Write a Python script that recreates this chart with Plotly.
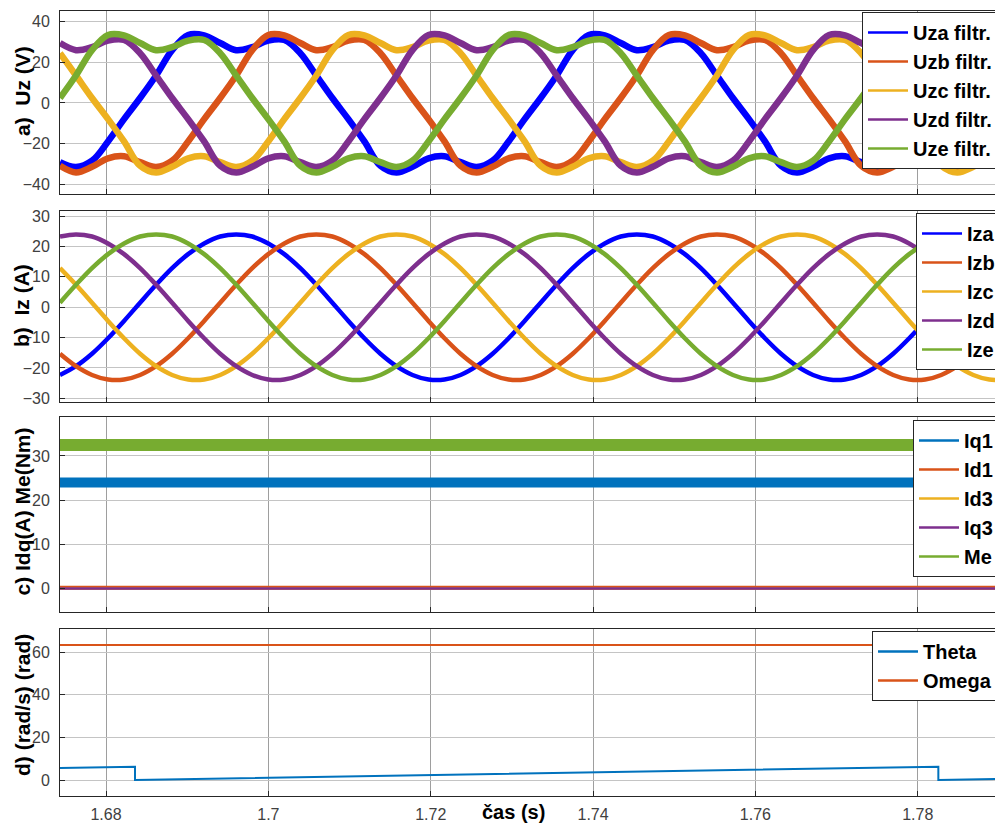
import plotly.graph_objects as go

# sample instants (s)
t = [1.674326, 1.676300, 1.678274, 1.680248, 1.682222, 1.684196, 1.686170, 1.688144, 1.690118, 1.692092,
     1.694066, 1.696040, 1.698014, 1.699988, 1.701962, 1.703936, 1.705910, 1.707884, 1.709858, 1.711832,
     1.713806, 1.715780, 1.717754, 1.719728, 1.721702, 1.723676, 1.725650, 1.727624, 1.729598, 1.731572,
     1.733546, 1.735520, 1.737494, 1.739468, 1.741442, 1.743416, 1.745390, 1.747364, 1.749338, 1.751312,
     1.753286, 1.755260, 1.757234, 1.759208, 1.761182, 1.763156, 1.765130, 1.767104, 1.769078, 1.771052,
     1.773026, 1.775000, 1.776974, 1.778948, 1.780922, 1.782896, 1.784870, 1.786844, 1.788818, 1.790792]

# a) filtered phase voltages (V)
uza = [-29.2, -31.6, -28.5, -19.0, -8.0, 2.4, 13.5, 26.0, 33.5, 33.3, 29.5,
       26.0, 27.5, 30.7, 31.0, 24.5, 13.5, 2.4, -8.0, -19.0, -31.0, -34.3, -31.5, -27.3, -26.3, -29.2, -31.6, -28.5, -19.0, -8.0, 2.4, 13.5, 26.0, 33.5, 33.3, 29.5,
       26.0, 27.5, 30.7, 31.0, 24.5, 13.5, 2.4, -8.0, -19.0, -31.0, -34.3, -31.5, -27.3, -26.3, -29.2, -31.6, -28.5, -19.0, -8.0, 2.4, 13.5, 26.0, 33.5, 33.3]
uzb = [-31.0, -34.3, -31.5, -27.3, -26.3, -29.2, -31.6, -28.5, -19.0, -8.0, 2.4, 13.5, 26.0, 33.5, 33.3, 29.5,
       26.0, 27.5, 30.7, 31.0, 24.5, 13.5, 2.4, -8.0, -19.0, -31.0, -34.3, -31.5, -27.3, -26.3, -29.2, -31.6, -28.5, -19.0, -8.0, 2.4, 13.5, 26.0, 33.5, 33.3, 29.5,
       26.0, 27.5, 30.7, 31.0, 24.5, 13.5, 2.4, -8.0, -19.0, -31.0, -34.3, -31.5, -27.3, -26.3, -29.2, -31.6, -28.5, -19.0, -8.0]
uzc = [24.5, 13.5, 2.4, -8.0, -19.0, -31.0, -34.3, -31.5, -27.3, -26.3, -29.2, -31.6, -28.5, -19.0, -8.0, 2.4, 13.5, 26.0, 33.5, 33.3, 29.5,
       26.0, 27.5, 30.7, 31.0, 24.5, 13.5, 2.4, -8.0, -19.0, -31.0, -34.3, -31.5, -27.3, -26.3, -29.2, -31.6, -28.5, -19.0, -8.0, 2.4, 13.5, 26.0, 33.5, 33.3, 29.5,
       26.0, 27.5, 30.7, 31.0, 24.5, 13.5, 2.4, -8.0, -19.0, -31.0, -34.3, -31.5, -27.3, -26.3]
uzd = [29.5,
       26.0, 27.5, 30.7, 31.0, 24.5, 13.5, 2.4, -8.0, -19.0, -31.0, -34.3, -31.5, -27.3, -26.3, -29.2, -31.6, -28.5, -19.0, -8.0, 2.4, 13.5, 26.0, 33.5, 33.3, 29.5,
       26.0, 27.5, 30.7, 31.0, 24.5, 13.5, 2.4, -8.0, -19.0, -31.0, -34.3, -31.5, -27.3, -26.3, -29.2, -31.6, -28.5, -19.0, -8.0, 2.4, 13.5, 26.0, 33.5, 33.3, 29.5,
       26.0, 27.5, 30.7, 31.0, 24.5, 13.5, 2.4, -8.0, -19.0]
uze = [2.4, 13.5, 26.0, 33.5, 33.3, 29.5,
       26.0, 27.5, 30.7, 31.0, 24.5, 13.5, 2.4, -8.0, -19.0, -31.0, -34.3, -31.5, -27.3, -26.3, -29.2, -31.6, -28.5, -19.0, -8.0, 2.4, 13.5, 26.0, 33.5, 33.3, 29.5,
       26.0, 27.5, 30.7, 31.0, 24.5, 13.5, 2.4, -8.0, -19.0, -31.0, -34.3, -31.5, -27.3, -26.3, -29.2, -31.6, -28.5, -19.0, -8.0, 2.4, 13.5, 26.0, 33.5, 33.3, 29.5,
       26.0, 27.5, 30.7, 31.0]

# b) phase currents (A)
iza = [-22.3, -19.4, -15.3, -10.2, -4.5, 1.5, 7.4, 12.9, 17.5, 21.0, 23.3,
       24.0, 23.3, 21.0, 17.5, 12.9, 7.4, 1.5, -4.5, -10.2, -15.3, -19.4, -22.3, -23.8, -23.8, -22.3, -19.4, -15.3, -10.2, -4.5, 1.5, 7.4, 12.9, 17.5, 21.0, 23.3,
       24.0, 23.3, 21.0, 17.5, 12.9, 7.4, 1.5, -4.5, -10.2, -15.3, -19.4, -22.3, -23.8, -23.8, -22.3, -19.4, -15.3, -10.2, -4.5, 1.5, 7.4, 12.9, 17.5, 21.0]
izb = [-15.3, -19.4, -22.3, -23.8, -23.8, -22.3, -19.4, -15.3, -10.2, -4.5, 1.5, 7.4, 12.9, 17.5, 21.0, 23.3,
       24.0, 23.3, 21.0, 17.5, 12.9, 7.4, 1.5, -4.5, -10.2, -15.3, -19.4, -22.3, -23.8, -23.8, -22.3, -19.4, -15.3, -10.2, -4.5, 1.5, 7.4, 12.9, 17.5, 21.0, 23.3,
       24.0, 23.3, 21.0, 17.5, 12.9, 7.4, 1.5, -4.5, -10.2, -15.3, -19.4, -22.3, -23.8, -23.8, -22.3, -19.4, -15.3, -10.2, -4.5]
izc = [12.9, 7.4, 1.5, -4.5, -10.2, -15.3, -19.4, -22.3, -23.8, -23.8, -22.3, -19.4, -15.3, -10.2, -4.5, 1.5, 7.4, 12.9, 17.5, 21.0, 23.3,
       24.0, 23.3, 21.0, 17.5, 12.9, 7.4, 1.5, -4.5, -10.2, -15.3, -19.4, -22.3, -23.8, -23.8, -22.3, -19.4, -15.3, -10.2, -4.5, 1.5, 7.4, 12.9, 17.5, 21.0, 23.3,
       24.0, 23.3, 21.0, 17.5, 12.9, 7.4, 1.5, -4.5, -10.2, -15.3, -19.4, -22.3, -23.8, -23.8]
izd = [23.3,
       24.0, 23.3, 21.0, 17.5, 12.9, 7.4, 1.5, -4.5, -10.2, -15.3, -19.4, -22.3, -23.8, -23.8, -22.3, -19.4, -15.3, -10.2, -4.5, 1.5, 7.4, 12.9, 17.5, 21.0, 23.3,
       24.0, 23.3, 21.0, 17.5, 12.9, 7.4, 1.5, -4.5, -10.2, -15.3, -19.4, -22.3, -23.8, -23.8, -22.3, -19.4, -15.3, -10.2, -4.5, 1.5, 7.4, 12.9, 17.5, 21.0, 23.3,
       24.0, 23.3, 21.0, 17.5, 12.9, 7.4, 1.5, -4.5, -10.2]
ize = [1.5, 7.4, 12.9, 17.5, 21.0, 23.3,
       24.0, 23.3, 21.0, 17.5, 12.9, 7.4, 1.5, -4.5, -10.2, -15.3, -19.4, -22.3, -23.8, -23.8, -22.3, -19.4, -15.3, -10.2, -4.5, 1.5, 7.4, 12.9, 17.5, 21.0, 23.3,
       24.0, 23.3, 21.0, 17.5, 12.9, 7.4, 1.5, -4.5, -10.2, -15.3, -19.4, -22.3, -23.8, -23.8, -22.3, -19.4, -15.3, -10.2, -4.5, 1.5, 7.4, 12.9, 17.5, 21.0, 23.3,
       24.0, 23.3, 21.0, 17.5]

# c) dq currents and torque (steady state)
t_dq = [1.67433, 1.78952]
iq1 = [24.0, 24.0]
id1 = [0.2, 0.2]
id3 = [0.0, 0.0]
iq3 = [0.0, 0.0]
me = [32.5, 32.5]

# d) rotor angle and speed
theta_t = [1.67433, 1.68357, 1.68357, 1.78254, 1.78254, 1.78952]
theta = [5.69, 6.28, 0.0, 6.28, 0.0, 0.44]
omega_t = [1.67433, 1.78952]
omega = [63.4, 63.4]

x_ticks = [1.68, 1.70, 1.72, 1.74, 1.76, 1.78]
x_ticktext = ["1.68", "1.7", "1.72", "1.74", "1.76", "1.78"]

C_BLUE = "#0000FF"
C_BLUE2 = "#0072BD"
C_ORANGE = "#D95319"
C_YELLOW = "#EDB120"
C_PURPLE = "#7E2F8E"
C_GREEN = "#77AC30"

W, H = 995, 825
FONT = "Liberation Sans, Arial, Helvetica, sans-serif"


def px_y(top, bottom):
    return [1 - bottom / H, 1 - top / H]


fig = go.Figure()


def add_series(x, y, name, col, width, xa, ya, leg, shape="linear"):
    # the data trace itself (thick, noisy band look) ...
    fig.add_trace(go.Scatter(x=x, y=y, name=name, mode="lines", xaxis=xa, yaxis=ya, showlegend=False,
                             line=dict(color=col, width=width, shape=shape, smoothing=1.0)))
    # ... and a thin-line key for the legend box
    fig.add_trace(go.Scatter(x=[None], y=[None], name=name, mode="lines", xaxis=xa, yaxis=ya, legend=leg,
                             line=dict(color=col, width=2.5)))


panel_a = [("Uza filtr.", uza, C_BLUE), ("Uzb filtr.", uzb, C_ORANGE), ("Uzc filtr.", uzc, C_YELLOW),
           ("Uzd filtr.", uzd, C_PURPLE), ("Uze filtr.", uze, C_GREEN)]
for name, vals, col in panel_a:
    add_series(t, vals, name, col, 6.5, "x", "y", "legend", "spline")

panel_b = [("Iza", iza, C_BLUE), ("Izb", izb, C_ORANGE), ("Izc", izc, C_YELLOW),
           ("Izd", izd, C_PURPLE), ("Ize", ize, C_GREEN)]
for name, vals, col in panel_b:
    add_series(t, vals, name, col, 4.5, "x2", "y2", "legend2", "spline")

panel_c = [("Iq1", iq1, C_BLUE2, 10), ("Id1", id1, C_ORANGE, 4), ("Id3", id3, C_YELLOW, 2),
           ("Iq3", iq3, C_PURPLE, 2.5), ("Me", me, C_GREEN, 12)]
for name, vals, col, w in panel_c:
    add_series(t_dq, vals, name, col, w, "x3", "y3", "legend3")

add_series(theta_t, theta, "Theta", C_BLUE2, 2, "x4", "y4", "legend4")
add_series(omega_t, omega, "Omega", C_ORANGE, 2, "x4", "y4", "legend4")

x_dom = [60 / W, 1.0]
x_common = dict(range=[1.67433, 1.78952], domain=x_dom, tickvals=x_ticks, ticktext=x_ticktext,
                showgrid=True, gridcolor="#9e9e9e", gridwidth=1, zeroline=False,
                showline=True, linecolor="#262626", linewidth=1, mirror=True,
                ticks="inside", ticklen=5, tickcolor="#262626",
                tickfont=dict(family=FONT, size=16, color="#404040"))
y_common = dict(showgrid=True, gridcolor="#c4c4c4", gridwidth=1, zeroline=False,
                showline=True, linecolor="#262626", linewidth=1, mirror=True,
                ticks="inside", ticklen=5, tickcolor="#262626", ticklabelstandoff=6,
                tickfont=dict(family=FONT, size=16, color="#404040"))

layout = dict(
    width=W, height=H, margin=dict(l=0, r=0, t=0, b=0, autoexpand=False),
    paper_bgcolor="white", plot_bgcolor="white", showlegend=True,
    xaxis=dict(x_common, anchor="y", showticklabels=False),
    xaxis2=dict(x_common, anchor="y2", matches="x", showticklabels=False),
    xaxis3=dict(x_common, anchor="y3", matches="x", showticklabels=False),
    xaxis4=dict(x_common, anchor="y4", matches="x", showticklabels=True, ticklabelstandoff=4),
    yaxis=dict(y_common, anchor="x", domain=px_y(10.8, 193.8), range=[-44.8, 45.4],
               tickvals=[-40, -20, 0, 20, 40]),
    yaxis2=dict(y_common, anchor="x2", domain=px_y(211, 401.7), range=[-31.1, 31.7],
                tickvals=[-30, -20, -10, 0, 10, 20, 30]),
    yaxis3=dict(y_common, anchor="x3", domain=px_y(417.3, 612), range=[-5.3, 38.75],
                tickvals=[0, 10, 20, 30]),
    yaxis4=dict(y_common, anchor="x4", domain=px_y(629.3, 796), range=[-7.5, 70.8],
                tickvals=[0, 20, 40, 60]),
)

leg_common = dict(xanchor="left", yanchor="top", bgcolor="white", bordercolor="#262626", borderwidth=1,
                  font=dict(family=FONT, size=20, color="black", weight="bold"), tracegroupgap=0,
                  itemwidth=40)
layout["legend"] = dict(leg_common, x=862 / W, y=1 - 12 / H)
layout["legend2"] = dict(leg_common, x=916 / W, y=1 - 213 / H)
layout["legend3"] = dict(leg_common, x=913 / W, y=1 - 420 / H)
layout["legend4"] = dict(leg_common, x=872 / W, y=1 - 631 / H)

nb = "\u00a0"
ylabels = [("a)" + nb * 2 + "Uz (V)", 91), ("b)" + nb * 2 + "Iz (A)", 306),
           ("c) Idq(A) Me(Nm)", 511.5), ("d) (rad/s) (rad)", 705)]
annotations = []
for txt, yc in ylabels:
    annotations.append(dict(text="<b>" + txt + "</b>", x=22 / W, y=1 - yc / H, xref="paper", yref="paper",
                            textangle=-90, showarrow=False, xanchor="center", yanchor="middle",
                            font=dict(family=FONT, size=21, color="black")))
annotations.append(dict(text="<b>čas (s)</b>", x=513 / W, y=1 - 812 / H, xref="paper", yref="paper",
                        showarrow=False, xanchor="center", yanchor="middle",
                        font=dict(family=FONT, size=20, color="black")))
layout["annotations"] = annotations

fig.update_layout(**layout)
fig.write_html("out.html")
